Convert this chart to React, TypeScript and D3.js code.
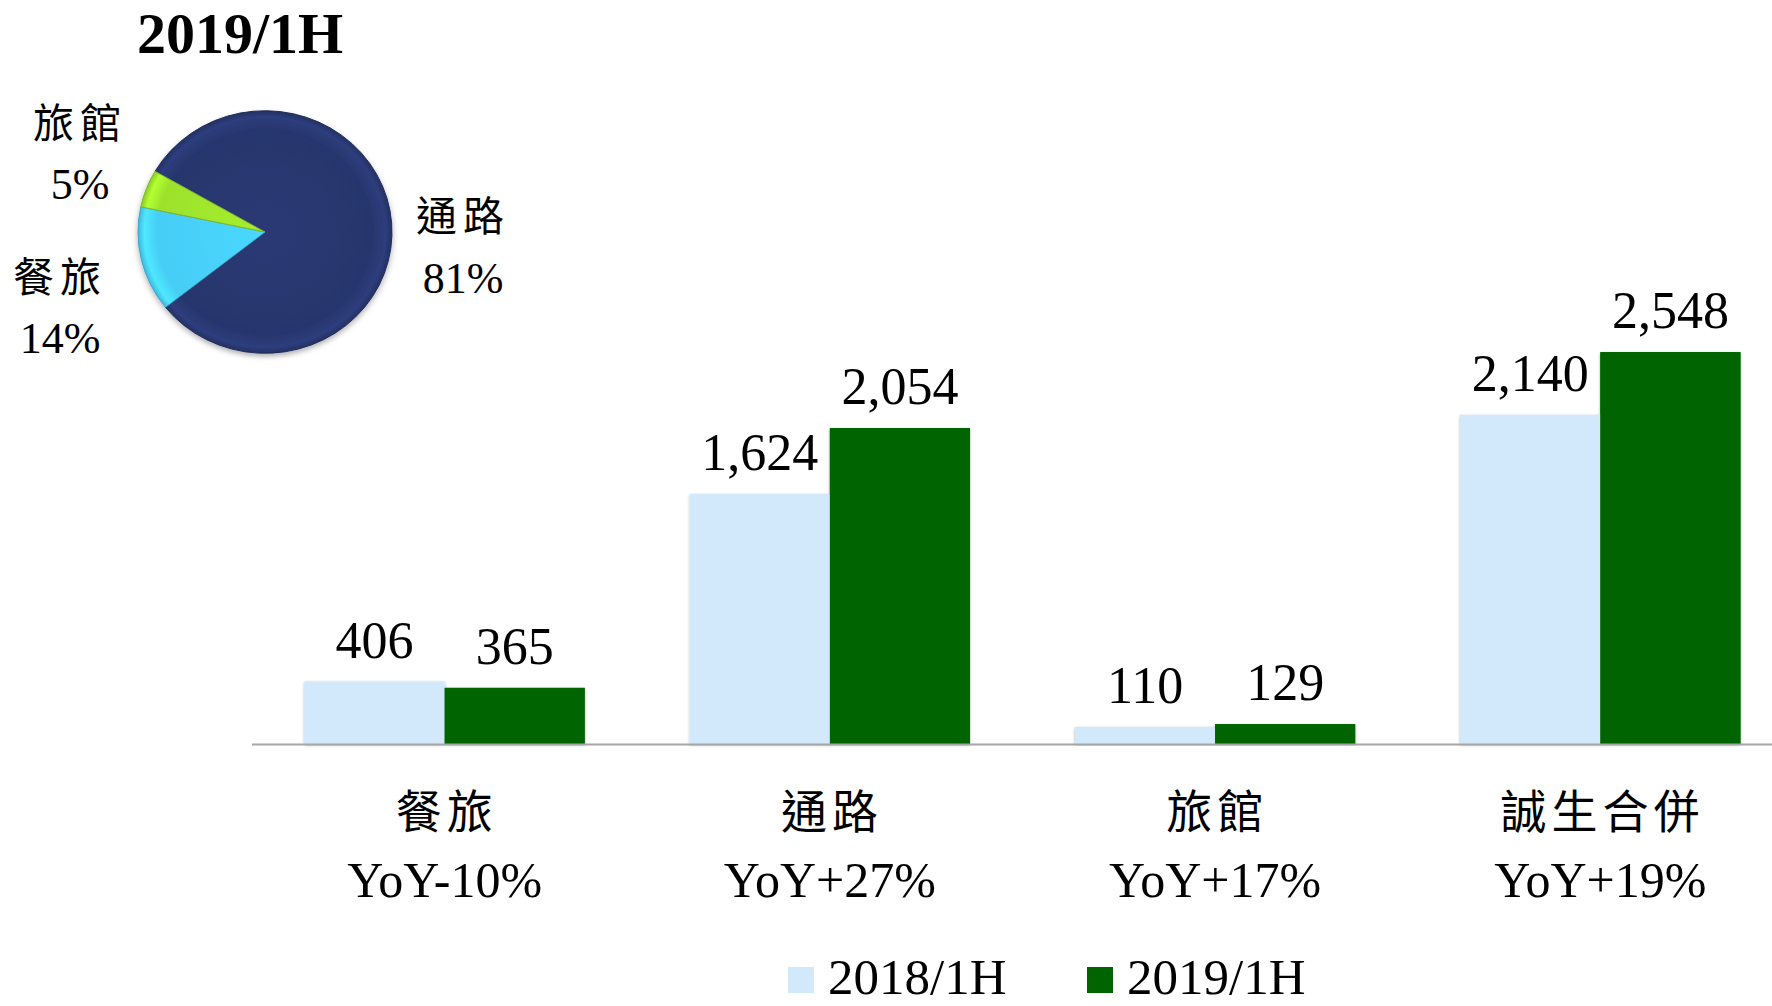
import React from "react";
import * as d3 from "d3";

const categories = ["餐旅", "通路", "旅館", "誠生合併"];
const yoyLabels = ["YoY-10%", "YoY+27%", "YoY+17%", "YoY+19%"];
const series2018 = [406, 1624, 110, 2140];
const series2019 = [365, 2054, 129, 2548];
const seriesNames = ["2018/1H", "2019/1H"];
const pieTitle = "2019/1H";
const pieCategories = ["通路", "餐旅", "旅館"];
const pieValues = [81, 14, 5];

const W = 1772;
const H = 1006;
const BAR_COLORS = ["#D2E8FB", "#006400"];
const PIE_COLORS = ["#28366E", "#46CDF6", "#9DE22C"];
const SERIF = "'Liberation Serif', 'Times New Roman', 'Noto Sans CJK TC', serif";
const CJK = "'Noto Sans CJK TC', 'Liberation Serif', serif";

export default function App() {
  const baseY = 744;
  const x0 = d3
    .scaleBand<string>()
    .domain(categories)
    .range([252, 1793])
    .paddingInner(0.273)
    .paddingOuter(0.1365);
  const x1 = d3
    .scaleBand<string>()
    .domain(seriesNames)
    .range([0, x0.bandwidth()]);
  const y = d3.scaleLinear().domain([0, 2600]).range([baseY, baseY - 0.1538 * 2600]);

  const data = [series2018, series2019];

  // pie
  const pcx = 265;
  const pcy = 232;
  const pr = 127;
  const pie = d3
    .pie<number>()
    .sort(null)
    .startAngle((-60 * Math.PI) / 180)
    .endAngle((300 * Math.PI) / 180);
  const arcs = pie(pieValues);
  const arcGen = d3.arc<d3.PieArcDatum<number>>().innerRadius(0).outerRadius(pr);

  const pieLabelPos = [
    { x: 463, y1: 231, y2: 293 },
    { x: 60, y1: 292, y2: 353 },
    { x: 80, y1: 138, y2: 199 },
  ];

  return (
    <svg
      width={W}
      height={H}
      viewBox={`0 0 ${W} ${H}`}
      style={{ position: "absolute", left: 0, top: 0, background: "#fff" }}
    >
      <defs>
        <filter id="barShadow" x="-10%" y="-10%" width="120%" height="120%">
          <feDropShadow dx="0" dy="1" stdDeviation="1.5" floodColor="#000" floodOpacity="0.35" />
        </filter>
        <filter id="pieShadow" x="-20%" y="-20%" width="140%" height="140%">
          <feDropShadow dx="0" dy="3" stdDeviation="3" floodColor="#000" floodOpacity="0.3" />
        </filter>
        {PIE_COLORS.map((c, i) => (
          <radialGradient id={`pg${i}`} key={i} cx="0" cy="0" r={pr} gradientUnits="userSpaceOnUse">
            <stop offset="0%" stopColor={d3.color(c)!.brighter(0.15).toString()} />
            <stop offset="85%" stopColor={c} />
            <stop offset="95%" stopColor={d3.color(c)!.brighter(0.35).toString()} />
            <stop offset="100%" stopColor={d3.color(c)!.darker(0.3).toString()} />
          </radialGradient>
        ))}
      </defs>

      {/* Pie title */}
      <text x={240} y={53} textAnchor="middle" fontFamily={SERIF} fontWeight="bold" fontSize={58} fill="#000">
        {pieTitle}
      </text>

      {/* Pie */}
      <g transform={`translate(${pcx},${pcy}) scale(1,0.955)`} filter="url(#pieShadow)">
        {arcs.map((a, i) => (
          <path key={i} d={arcGen(a) || ""} fill={`url(#pg${i})`} stroke={d3.color(PIE_COLORS[i])!.darker(0.6).toString()} strokeWidth={1} />
        ))}
      </g>

      {/* Pie labels */}
      {pieCategories.map((c, i) => (
        <g key={c}>
          <text x={pieLabelPos[i].x} y={pieLabelPos[i].y1} textAnchor="middle" fontFamily={CJK} fontSize={41} letterSpacing={6} fill="#000">
            {c}
          </text>
          <text x={pieLabelPos[i].x} y={pieLabelPos[i].y2} textAnchor="middle" fontFamily={SERIF} fontSize={44} fill="#000">
            {pieValues[i]}%
          </text>
        </g>
      ))}

      {/* Bars */}
      {categories.map((c, ci) => (
        <g key={c} transform={`translate(${x0(c)},0)`}>
          {seriesNames.map((s, si) => {
            const v = data[si][ci];
            const bx = x1(s)!;
            const bw = x1.bandwidth();
            return (
              <g key={s}>
                <rect x={bx} y={y(v)} width={bw} height={baseY - y(v)} fill={BAR_COLORS[si]} filter="url(#barShadow)" />
              </g>
            );
          })}
        </g>
      ))}
      {categories.map((c, ci) => (
        <g key={c + "top"} transform={`translate(${x0(c)},0)`}>
          {seriesNames.map((s, si) => {
            const v = data[si][ci];
            const bx = x1(s)!;
            const bw = x1.bandwidth();
            return (
              <g key={s}>
                <rect x={bx} y={y(v)} width={bw} height={baseY - y(v)} fill={BAR_COLORS[si]} />
                <text x={bx + bw / 2} y={y(v) - 24} textAnchor="middle" fontFamily={SERIF} fontSize={52} fill="#000">
                  {d3.format(",")(v)}
                </text>
              </g>
            );
          })}
        </g>
      ))}

      {/* Baseline */}
      <line x1={252} x2={W} y1={baseY + 0.5} y2={baseY + 0.5} stroke="#A6A6A6" strokeWidth={2} />

      {/* Category labels */}
      {categories.map((c, ci) => {
        const cx = x0(c)! + x0.bandwidth() / 2;
        return (
          <g key={c + "lab"}>
            <text x={cx + 2} y={828} textAnchor="middle" fontFamily={CJK} fontSize={46} letterSpacing={5} fill="#000">
              {c}
            </text>
            <text x={cx} y={897} textAnchor="middle" fontFamily={SERIF} fontSize={50} fill="#000">
              {yoyLabels[ci]}
            </text>
          </g>
        );
      })}

      {/* Legend */}
      {seriesNames.map((s, si) => {
        const lx = [788, 1087][si];
        return (
          <g key={s + "leg"}>
            <rect x={lx} y={967} width={26} height={26} fill={BAR_COLORS[si]} />
            <text x={lx + 40} y={994} fontFamily={SERIF} fontSize={51} fill="#000">
              {s}
            </text>
          </g>
        );
      })}
    </svg>
  );
}
